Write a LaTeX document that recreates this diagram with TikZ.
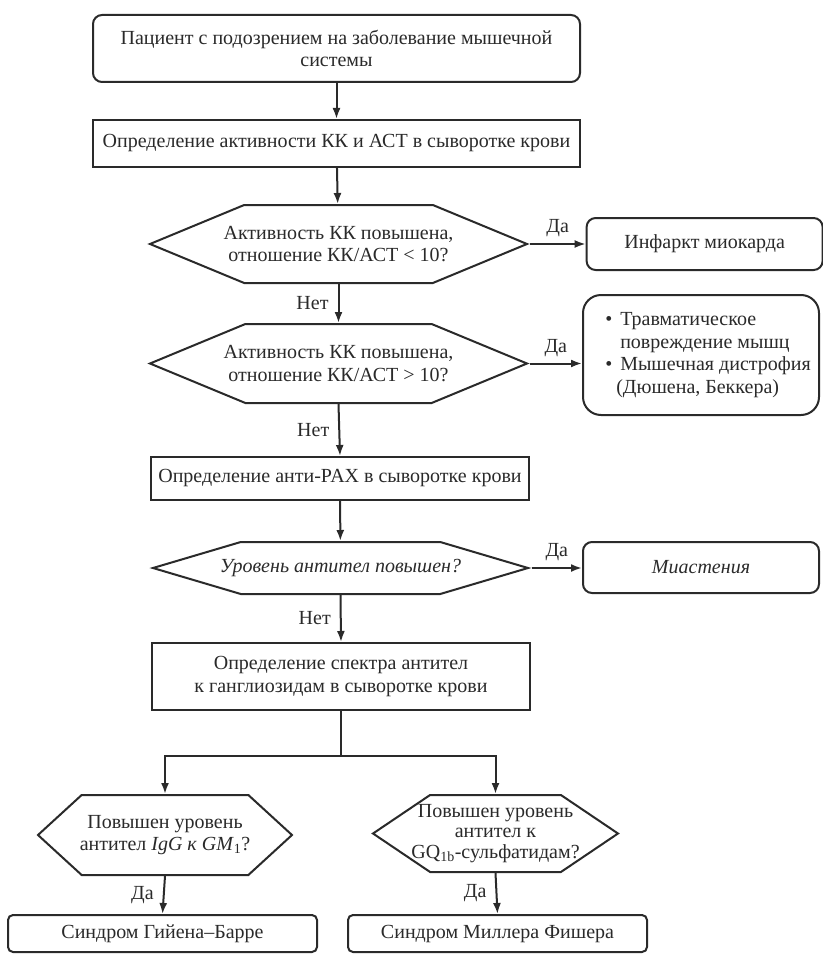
\documentclass[tikz,border=0pt]{standalone}
\usepackage{fontspec}
\setmainfont{Liberation Serif}
\usetikzlibrary{arrows.meta, shapes.symbols, positioning}
\definecolor{inkgray}{HTML}{2A2A2A}
\tikzset{%
    basesty/.style={
        draw=inkgray,
        line width=2pt,
        text=inkgray,
        align=center,
        inner sep=0pt,
        font=\fontsize{20}{22.5}\selectfont,
    },
    boxsty/.style={
        basesty,
        rectangle,
    },
    rboxsty/.style={
        basesty,
        rectangle,
        rounded corners=9pt,
    },
    hexsty/.style={
        basesty,
        signal,
        signal to=east and west,
        inner xsep=-40pt,
    },
    labsty/.style={
        text=inkgray,
        inner sep=3pt,
        font=\fontsize{20}{22.5}\selectfont,
    },
    arr/.style={
        draw=inkgray,
        line width=2pt,
        -{Latex[length=11pt,width=8pt]},
    },
}

\begin{document}
\begin{tikzpicture}[x=1pt,y=-1pt]

\useasboundingbox[fill=white] (0,0) rectangle (822,955);

% main column
\node (patient) [rboxsty,minimum width=487pt,minimum height=67pt] at (336.5,48.5)
     {Пациент с подозрением на заболевание мышечной\\системы};
\node (kkast) [boxsty,minimum width=487pt,minimum height=47pt,below=36pt of patient]
     {Определение активности КК и АСТ в сыворотке крови};
\node (hex1) [hexsty,minimum width=377pt,minimum height=78pt,signal pointer angle=45] at (338.5,244)
     {Активность КК повышена,\\отношение КК/АСТ < 10?};
\node (hex2) [hexsty,minimum width=377pt,minimum height=79pt,signal pointer angle=45] at (338.5,363.5)
     {Активность КК повышена,\\отношение КК/АСТ > 10?};
\node (pax) [boxsty,minimum width=378pt,minimum height=43pt] at (340,478.5)
     {Определение анти-PAX в сыворотке крови};
\node (hex3) [hexsty,minimum width=375pt,minimum height=52pt,signal pointer angle=33] at (340.5,568)
     {\itshape Уровень антител повышен?};
\node (spec) [boxsty,minimum width=378pt,minimum height=67pt] at (341,676.5)
     {Определение спектра антител\\к ганглиозидам в сыворотке крови};

% right column
\node (infarct) [rboxsty,minimum width=236pt,minimum height=52pt,right=56pt of hex1] {Инфаркт миокарда};
\node (trauma) [rboxsty,rounded corners=18pt,minimum width=236pt,minimum height=120pt] at (701,355)
     {\begin{tabular}{@{\hspace{14pt}}l@{\hspace{8pt}}l@{}}
      •&Травматическое\\
      &повреждение мышц\\
      •&Мышечная дистрофия\\
      \multicolumn{2}{@{\hspace{25pt}}l@{}}{(Дюшена, Беккера)}
      \end{tabular}};
\node (myast) [rboxsty,minimum width=236pt,minimum height=51pt] at (701,567.5) {\itshape Миастения};

% bottom branches
\coordinate (fork) at ([yshift=-45pt]spec.south);
\node (gm1) [hexsty,minimum width=254pt,minimum height=80pt,signal pointer angle=85] at (165,835)
     {Повышен уровень\\антител \textit{IgG к GM}\textsubscript{1}?};
\node (gq1b) [hexsty,minimum width=245pt,minimum height=77pt,signal pointer angle=68,
              font=\fontsize{20}{20.5}\selectfont] at (495.5,833.5)
     {Повышен уровень\\антител к\\GQ\textsubscript{1b}-сульфатидам?};
\node (gbs) [rboxsty,rounded corners=5pt,minimum width=309pt,minimum height=37pt] at (162.5,933.5)
     {Синдром Гийена–Барре};
\node (mfs) [rboxsty,rounded corners=5pt,minimum width=299pt,minimum height=37pt] at (497.5,933.5)
     {Синдром Миллера Фишера};

% connectors
\draw[arr] (patient) -- (kkast);
\draw[arr] (kkast) -- (hex1);
\draw[arr] (hex1.east) -- node[labsty,above=3pt] {Да} (infarct.west);
\draw[arr] (hex1.south) -- node[labsty,left=6pt] {Нет} (hex2.north);
\draw[arr] (hex2.east) -- node[labsty,above=3pt] {Да} (hex2.east -| trauma.west);
\draw[arr] (hex2.south) -- node[labsty,left=6pt] {Нет} (pax.north);
\draw[arr] (pax) -- (hex3);
\draw[arr] (hex3.east) -- node[labsty,above=3pt] {Да} (hex3.east -| myast.west);
\draw[arr] (hex3.south) -- node[labsty,left=6pt] {Нет} (spec.north);
\draw[draw=inkgray,line width=2pt] (spec.south) -- (fork);
\draw[arr] (fork) -| (gm1.north);
\draw[arr] (fork) -| (gq1b.north);
\draw[arr] (gm1.south) -- node[labsty,left=6pt] {Да} (gbs.north);
\draw[arr] (gq1b.south) -- node[labsty,left=6pt] {Да} (mfs.north);

\end{tikzpicture}
\end{document}
